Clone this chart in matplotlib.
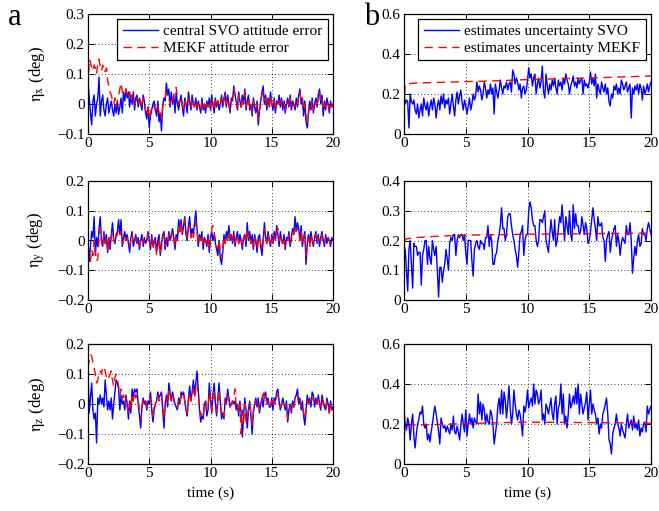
import numpy as np
import matplotlib
matplotlib.use('Agg')
import matplotlib.pyplot as plt

plt.rcParams['font.family'] = ['Liberation Serif', 'DejaVu Serif']
plt.rcParams['mathtext.fontset'] = 'stix'
plt.rcParams['axes.unicode_minus'] = True

# time axis (s), sample step 0.1 s
time = np.round(np.arange(201) * 0.1, 1)

# ---------- attitude errors (milli-deg) ----------
eta_x_svo = [
    80, 20, -30, -70, 10, 30, -40, 0, 20, 90,
    -40, 10, 30, -20, -40, 0, 20, -30, -10, 10,
    -20, -40, 0, -30, 10, -35, -10, 20, -30, 40,
    10, 50, 20, 40, -10, 30, 0, 40, -20, 20,
    30, -10, 20, 0, -20, 30, 10, -30, -50, -10,
    -80, -40, -20, 0, 10, -20, -40, 10, -60, -30,
    -90, 0, 20, 10, 70, 30, 50, -10, 40, 0,
    30, -30, 40, 0, -20, 10, 30, -10, -40, 20,
    0, -30, 40, 10, -20, 30, 0, -10, 20, -20,
    10, -10, -30, 20, -20, 0, -30, 10, -10, 20,
    -20, 30, 0, -30, 20, -10, 10, -20, 0, 30,
    -10, 20, 40, -10, 30, 0, -30, 20, 10, 60,
    30, 10, -20, 40, 10, -10, 30, 0, 50, -20,
    10, 30, -20, 0, -40, 20, -10, -30, 10, -70,
    -20, 10, 40, 60, 0, 30, -20, 20, -10, 40,
    0, -20, 20, -30, 10, 0, 30, -10, 20, -20,
    10, -30, 0, 20, -10, 30, -20, 10, 0, -20,
    20, -10, 30, 50, 0, 20, -40, 10, -60, -80,
    -30, 10, -20, 20, -30, 0, 20, -10, 30, 50,
    0, 30, -40, 10, -20, 20, 0, -30, 10, -10,
    0]
eta_x_mekf = [
    60, 150, 140, 120, 110, 130, 120, 100, 140, 150,
    120, 110, 130, 105, 110, 120, 80, 60, 40, 30,
    10, 0, 20, -10, 10, 30, 50, 70, 40, 30,
    40, 50, 30, 20, 40, 10, 30, 20, 0, 10,
    20, 0, 10, 10, -10, 20, 0, -20, -30, -10,
    -50, -30, -10, 0, -10, -20, -20, 0, -30, -20,
    -50, -10, 10, 20, 40, 30, 20, 0, 20, 10,
    30, 50, 55, 20, 0, 10, 20, 0, -20, 10,
    0, -10, 20, 10, -10, 20, 0, -10, 10, -10,
    0, -10, -20, 10, -10, 0, -20, 0, -10, 10,
    -10, 20, 0, -20, 10, -10, 10, -10, 0, 20,
    0, 10, 30, 0, 20, 0, -20, 10, 20, 50,
    30, 10, -10, 30, 10, -10, 20, 0, 40, -10,
    10, 20, -10, 0, -30, 10, -10, -20, 0, -50,
    -20, 0, 30, 40, 10, 20, -10, 10, -10, 30,
    0, -10, 10, -20, 0, 0, 20, 0, 10, -10,
    0, -20, -10, 10, -10, 20, -10, 0, 0, -10,
    10, 0, 20, 40, 10, 20, -20, 0, -40, -60,
    -30, 0, -10, 10, -20, 0, 10, 0, 20, 40,
    10, 20, -20, 0, -10, 10, 0, -20, 0, -10,
    0]
eta_y_svo = [
    0, -70, -20, 30, 10, 80, -50, 10, -20, 40,
    80, 0, -20, 30, -10, 20, -40, 10, -30, 20,
    60, 0, -10, 20, 30, 70, 20, 70, -20, 10,
    30, 0, 20, -10, -40, 10, 30, -20, 0, 20,
    -10, 10, -30, 0, 20, -20, 10, -10, 0, 30,
    0, -30, 20, -20, 0, 10, -40, 0, 20, -50,
    -10, 20, 30, -30, 10, -20, 30, 0, 20, 40,
    10, -30, 20, 0, 70, 40, 70, 20, 50, 80,
    20, 0, 50, 80, 10, 40, 20, 60, 100, 40,
    -20, 20, 0, 30, -30, 10, 0, -20, 20, -40,
    10, 30, 0, 20, -10, -30, -50, 0, -60, -80,
    -40, 20, -10, 30, 10, 50, 0, 20, -10, 30,
    -20, 10, 30, -10, 20, 0, -30, 10, 20, -20,
    60, 0, 30, -10, 20, -30, 20, 0, -40, 10,
    20, -20, -50, 0, 60, 10, -10, 30, 0, -20,
    20, -10, 30, 0, 50, 20, -20, 30, 0, -10,
    20, -30, 10, 0, 30, -20, 10, 40, 20, 80,
    30, 60, 40, 0, 50, -20, 10, 30, -80, -10,
    20, -10, 30, 0, -20, 10, 30, -10, 20, -20,
    10, 30, 0, -20, 20, -10, 10, 0, -20, 10,
    0]
eta_y_mekf = [
    -20, -60, -70, -30, -50, 0, -40, -70, -60, 10,
    40, 0, -20, 20, -10, 10, -30, 0, -20, 10,
    30, 0, -10, 10, 20, 40, 20, 30, -10, 0,
    20, 0, 10, -10, -20, 0, 20, -10, 0, 10,
    -10, 0, -20, 0, 10, -10, 0, -10, 0, 20,
    10, -20, 10, -30, -10, 0, -50, -20, 10, -40,
    -20, 10, 20, -20, 0, -10, 20, 0, 10, 30,
    10, -20, 10, 0, 50, 30, 60, 30, 40, 70,
    30, 10, 40, 50, 10, 30, 10, 40, 60, 30,
    -10, 10, 0, 20, -20, 0, 0, -10, 10, -30,
    0, 40, 50, 30, 0, -20, -30, 0, -40, -60,
    -30, 10, -10, 20, 0, 30, 10, 20, 0, 20,
    -10, 10, 20, -10, 10, 0, -20, 10, 10, -10,
    40, 10, 20, -10, 10, -20, 10, 0, -30, 0,
    10, -10, -30, 0, 40, 10, -10, 20, 0, -10,
    10, -10, 20, 0, 30, 40, 0, 20, 0, -10,
    10, -20, 0, 0, 20, -10, 0, 30, 20, 50,
    30, 40, 30, 0, 30, -10, 10, 20, -50, -10,
    10, -20, 20, 0, -10, 0, 20, -10, 10, -10,
    0, 20, 10, -10, 10, 0, 10, 0, -10, 0,
    0]
eta_z_svo = [
    100, -30, 20, 70, -20, -50, -30, -130, 20, 0,
    30, 0, 20, -10, 80, 30, -20, 10, -20, 20,
    -50, 0, 40, 80, 70, 50, -20, 30, 0, 10,
    -20, 30, 0, -50, 10, -30, 50, 20, 50, 40,
    50, 0, -40, -80, -10, 20, 0, 10, -20, 10,
    0, 40, -20, -60, -20, 0, 10, 40, 20, 30,
    40, -20, -80, 0, 30, -10, 70, 40, 10, 40,
    20, 0, -10, -20, 20, 0, 40, 30, 40, 10,
    -20, -40, 20, 60, 10, 40, 80, 30, 70, 110,
    50, -20, -60, -40, -50, 0, 10, -40, -20, 70,
    20, -30, 30, 70, 0, -40, 20, 70, 10, -50,
    -30, -50, 20, 0, 50, 20, -10, 0, 10, 0,
    10, -20, 0, -40, 10, -30, -110, -40, 20, -20,
    -80, -20, 10, -40, -100, -30, 0, 20, -10, 20,
    -30, 0, 20, -10, 30, 40, 0, 20, -10, -10,
    20, -20, 20, 10, 40, 50, 10, -20, 0, 20,
    0, -20, 10, -60, -20, 0, -30, 10, -10, 20,
    30, 50, 0, 20, -20, 10, -40, -70, -20, 30,
    0, 20, -10, 40, 30, -10, 20, 0, 30, 0,
    -20, 30, 10, -10, -20, 20, 0, -30, 10, -20,
    -10]
eta_z_mekf = [
    120, 150, 165, 160, 140, 120, 100, 70, 80, 100,
    110, 100, 120, 125, 110, 90, 80, 90, 100, 110,
    80, 60, 90, 100, 80, 60, 30, 50, 20, 30,
    0, 20, -10, -30, 0, -20, 30, 10, 40, 20,
    30, 10, -20, -50, -10, 10, 0, 10, -10, 0,
    10, 20, -10, -40, -10, 0, 10, 30, 10, 20,
    30, -10, -50, 0, 20, 0, 50, 30, 10, 30,
    10, 0, 0, -10, 10, 0, 30, 20, 30, 10,
    -10, -30, 10, 40, 10, 30, 50, 20, 50, 70,
    30, -10, -40, -30, -40, 0, 10, -20, -10, 40,
    10, -20, 20, 50, 0, -30, 10, 40, 0, -30,
    -20, -40, 10, 0, 30, 10, -10, 0, 10, 20,
    50, -10, 0, -30, 0, -100, -20, -60, 0, -60,
    -60, -10, 0, -30, -70, -20, 0, 10, 0, 10,
    -20, 0, 10, 45, 20, 30, 0, 10, 0, -10,
    10, -10, 10, 0, 30, 30, 10, -10, 0, 10,
    0, -10, 0, -50, -20, -10, -20, 0, -10, 10,
    20, 30, 0, 10, -10, 0, -30, -50, -20, 10,
    0, 10, 0, 20, 20, 0, 10, 0, 20, 0,
    -10, 20, 0, -10, -20, 10, 0, -30, 0, -20,
    -20]

# ---------- estimate uncertainty (milli-deg) ----------
unc_x_svo = [
    200, 150, 170, 160, 30, 200, 160, 150, 170, 120,
    100, 150, 80, 120, 150, 90, 180, 140, 120, 160,
    90, 140, 170, 120, 180, 150, 80, 140, 170, 120,
    190, 150, 200, 130, 170, 150, 180, 100, 150, 200,
    140, 90, 170, 210, 150, 190, 220, 160, 120, 170,
    140, 100, 140, 180, 120, 150, 200, 170, 190, 260,
    210, 240, 220, 170, 200, 260, 230, 180, 220, 200,
    250, 200, 230, 100, 250, 210, 180, 220, 270, 230,
    200, 240, 230, 260, 220, 250, 260, 210, 320, 300,
    250, 280, 260, 220, 250, 180, 230, 240, 200, 220,
    270, 330, 280, 300, 240, 280, 300, 200, 250, 280,
    230, 260, 340, 210, 180, 300, 240, 200, 250, 220,
    270, 240, 280, 230, 200, 270, 240, 260, 220, 280,
    250, 300, 270, 250, 200, 240, 260, 290, 240, 260,
    230, 280, 250, 270, 280, 200, 270, 240, 250, 230,
    260, 310, 250, 280, 240, 300, 180, 250, 220, 200,
    260, 230, 210, 250, 200, 230, 160, 140, 200, 180,
    240, 220, 250, 200, 230, 200, 270, 250, 220, 240,
    260, 210, 230, 250, 80, 230, 200, 240, 220, 250,
    200, 250, 230, 170, 240, 200, 220, 250, 210, 240,
    260]
unc_y_svo = [
    150, 170, 100, 30, 170, 200, 120, 40, 190, 180,
    180, 150, 160, 160, 50, 150, 170, 200, 200, 120,
    180, 140, 120, 200, 170, 150, 180, 100, 10, 110,
    110, 60, 100, 120, 170, 140, 100, 190, 210, 200,
    220, 220, 150, 200, 220, 210, 220, 220, 200, 220,
    160, 120, 200, 200, 200, 130, 80, 170, 190, 200,
    180, 170, 200, 190, 190, 170, 210, 210, 250, 180,
    220, 200, 120, 120, 150, 160, 200, 220, 250, 310,
    240, 240, 200, 220, 280, 290, 290, 250, 220, 200,
    170, 150, 110, 160, 220, 230, 250, 150, 200, 220,
    220, 300, 330, 310, 270, 250, 250, 200, 180, 200,
    270, 270, 260, 280, 300, 200, 180, 160, 220, 270,
    230, 200, 270, 180, 200, 240, 280, 260, 320, 260,
    200, 280, 250, 220, 300, 220, 200, 320, 240, 290,
    250, 250, 220, 230, 280, 250, 220, 260, 240, 190,
    200, 230, 270, 310, 270, 240, 200, 280, 250, 250,
    260, 210, 200, 130, 200, 220, 230, 160, 200, 220,
    240, 250, 180, 220, 200, 150, 190, 210, 200, 190,
    250, 220, 220, 260, 200, 90, 140, 180, 150, 200,
    220, 180, 190, 240, 220, 220, 200, 240, 260, 240,
    220]
unc_z_svo = [
    270, 200, 170, 230, 200, 120, 200, 250, 140, 80,
    150, 200, 220, 260, 250, 290, 200, 180, 200, 120,
    150, 110, 160, 200, 250, 290, 250, 210, 160, 100,
    230, 200, 180, 190, 160, 190, 170, 150, 200, 170,
    240, 160, 150, 190, 160, 120, 190, 250, 200, 160,
    270, 140, 200, 250, 200, 230, 180, 230, 210, 200,
    350, 250, 310, 220, 300, 270, 200, 250, 210, 200,
    270, 250, 200, 100, 150, 200, 290, 330, 250, 370,
    250, 360, 320, 230, 300, 390, 280, 200, 250, 370,
    300, 250, 220, 270, 250, 200, 140, 290, 260, 300,
    370, 280, 310, 330, 290, 400, 300, 370, 350, 300,
    320, 370, 220, 250, 200, 300, 280, 250, 290, 330,
    250, 220, 300, 340, 200, 280, 300, 400, 250, 350,
    200, 240, 180, 250, 350, 280, 300, 340, 300, 380,
    300, 400, 250, 350, 300, 250, 280, 310, 360, 220,
    300, 370, 250, 300, 270, 250, 200, 230, 150, 200,
    180, 250, 270, 300, 330, 250, 120, 100, 50, 150,
    180, 200, 250, 200, 180, 140, 200, 170, 150, 130,
    200, 250, 180, 200, 220, 170, 240, 180, 200, 170,
    220, 140, 180, 160, 200, 210, 160, 290, 250, 270,
    290]

# MEKF uncertainty (smooth curves, deg)
mekf_x_t = [0, 0.1, 1, 3, 5, 7, 10, 13, 15, 17, 20]
mekf_x_v = [0.13, 0.25, 0.255, 0.258, 0.262, 0.265, 0.272, 0.277, 0.280, 0.284, 0.290]
mekf_y_t = [0, 0.1, 1, 3, 5, 10, 15, 20]
mekf_y_v = [0.15, 0.205, 0.210, 0.215, 0.218, 0.221, 0.223, 0.225]
mekf_z_t = [0, 0.1, 1, 3, 5, 8, 10, 13, 15, 20]
mekf_z_v = [0.13, 0.19, 0.195, 0.198, 0.202, 0.207, 0.209, 0.208, 0.207, 0.204]

xticks = [0, 5, 10, 15, 20]
left_labels = [r'$\mathrm{\eta_x}$ (deg)', r'$\mathrm{\eta_y}$ (deg)', r'$\mathrm{\eta_z}$ (deg)']
left_ylims = [(-0.1, 0.3), (-0.2, 0.2), (-0.2, 0.2)]
left_yticks = [[-0.1, 0, 0.1, 0.2, 0.3], [-0.2, -0.1, 0, 0.1, 0.2], [-0.2, -0.1, 0, 0.1, 0.2]]
right_ylims = [(0, 0.6), (0, 0.4), (0, 0.6)]
right_yticks = [[0, 0.2, 0.4, 0.6], [0, 0.1, 0.2, 0.3, 0.4], [0, 0.2, 0.4, 0.6]]
ytick_labels = {-0.2: '\u22120.2', -0.1: '\u22120.1', 0: '0', 0.1: '0.1', 0.2: '0.2',
                0.3: '0.3', 0.4: '0.4', 0.6: '0.6'}

svo_err = [eta_x_svo, eta_y_svo, eta_z_svo]
mekf_err = [eta_x_mekf, eta_y_mekf, eta_z_mekf]
svo_unc = [unc_x_svo, unc_y_svo, unc_z_svo]
mekf_unc = [(mekf_x_t, mekf_x_v), (mekf_y_t, mekf_y_v), (mekf_z_t, mekf_z_v)]

W, H = 659, 511
fig = plt.figure(figsize=(W / 100, H / 100), dpi=100)

rows = [(14, 134), (181, 300), (344, 464)]
cols = [(88, 333), (404, 651)]
FS = 11

def style(ax, ylim, yticks):
    ax.set_xlim(0, 20)
    ax.set_ylim(*ylim)
    ax.set_xticks(xticks)
    ax.set_xticklabels([str(v) for v in xticks])
    ax.set_yticks(yticks)
    ax.set_yticklabels([ytick_labels[round(v, 1)] for v in yticks])
    ax.tick_params(direction='in', length=4, width=0.7, top=True, right=True,
                   labelsize=FS, pad=2.5)
    ax.grid(True, linestyle=(0, (1, 3)), color='black', linewidth=0.6)
    for s in ax.spines.values():
        s.set_linewidth(0.9)

def add_legend(ax):
    leg = ax.legend(loc='upper right', fontsize=FS, fancybox=False,
                    framealpha=1, edgecolor='black', borderaxespad=0.35,
                    borderpad=0.35, labelspacing=0.2, handlelength=2.3,
                    handletextpad=0.35)
    leg.get_frame().set_linewidth(0.9)

blue = '#0000ff'
red = '#ff0000'
DASH = (6, 4)

for i in range(3):
    y0, y1 = rows[i]
    # left column
    x0, x1 = cols[0]
    ax = fig.add_axes([x0 / W, 1 - y1 / H, (x1 - x0) / W, (y1 - y0) / H])
    ax.plot(time, np.array(svo_err[i]) / 1000.0, color=blue, lw=1.0,
            label='central SVO attitude error')
    ax.plot(time, np.array(mekf_err[i]) / 1000.0, color=red, lw=1.0,
            dashes=DASH, label='MEKF attitude error')
    style(ax, left_ylims[i], left_yticks[i])
    ax.set_ylabel(left_labels[i], fontsize=FS + 1, labelpad=7)
    if i == 0:
        add_legend(ax)
    if i == 2:
        ax.set_xlabel('time (s)', fontsize=FS, labelpad=4)

    # right column
    x0, x1 = cols[1]
    ax = fig.add_axes([x0 / W, 1 - y1 / H, (x1 - x0) / W, (y1 - y0) / H])
    ax.plot(time, np.array(svo_unc[i]) / 1000.0, color=blue, lw=1.0,
            label='estimates uncertainty SVO')
    mt, mv = mekf_unc[i]
    ax.plot(mt, mv, color=red, lw=1.0, dashes=DASH,
            label='estimates uncertainty MEKF')
    style(ax, right_ylims[i], right_yticks[i])
    if i == 0:
        add_legend(ax)
    if i == 2:
        ax.set_xlabel('time (s)', fontsize=FS, labelpad=4)

fig.text(8 / W, 1 - 3 / H, 'a', fontsize=22, va='top', ha='left')
fig.text(364 / W, 1 - 3 / H, 'b', fontsize=22, va='top', ha='left')

fig.savefig('out.png', dpi=100)
